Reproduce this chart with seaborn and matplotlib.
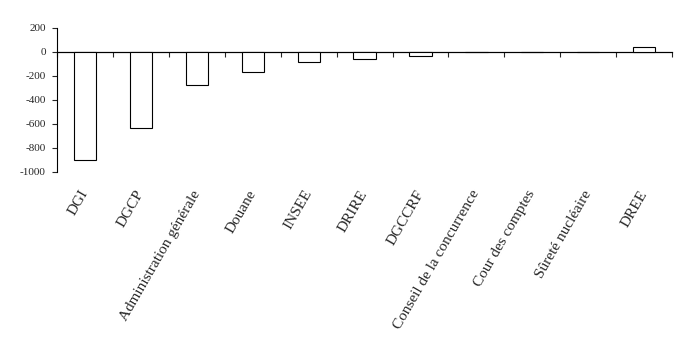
import numpy as np
import matplotlib
matplotlib.use('Agg')
import matplotlib.pyplot as plt
import seaborn as sns

# données
services = ['DGI', 'DGCP', 'Administration générale', 'Douane', 'INSEE', 'DRIRE',
            'DGCCRF', 'Conseil de la concurrence', 'Cour des comptes',
            'Sûreté nucléaire', 'DREE']
valeurs = [-900, -635, -280, -170, -80, -55, -30, 0, 0, 0, 45]
yticks = [-1000, -800, -600, -400, -200, 0, 200]

sns.set_style('white')
plt.rcParams['font.family'] = ['Liberation Serif', 'DejaVu Serif']

fig = plt.figure(figsize=(6.88, 3.53), dpi=100)
ax = fig.add_axes([0.0833, 0.5136, 0.8934, 0.4071])

sns.barplot(x=services, y=valeurs, color='white', edgecolor='black',
            linewidth=0.8, width=0.40, saturation=1, ax=ax)

ax.set_ylim(-1000, 200)
ax.set_xlim(-0.5, len(services) - 0.5)
ax.set_yticks(yticks)
ax.set_yticklabels([str(v) for v in yticks], fontsize=8)
ax.tick_params(axis='y', direction='out', length=3.3, width=0.8, pad=5, left=True)

# étiquettes en bas, inclinées
ax.set_xticks(range(len(services)))
ax.set_xticklabels(services, rotation=60, ha='right', va='center',
                   rotation_mode='anchor', fontsize=11)
ax.tick_params(axis='x', length=0, pad=14)

for s in ['top', 'right', 'bottom']:
    ax.spines[s].set_visible(False)
ax.spines['left'].set_color('black')
ax.spines['left'].set_linewidth(0.8)

# axe horizontal à zéro avec graduations entre catégories
y0 = (0 - (-1000)) / 1200
sec = ax.secondary_xaxis(y0)
sec.set_xticks(np.arange(len(services) + 1) - 0.5)
sec.set_xticklabels([])
sec.xaxis.set_ticks_position('bottom')
sec.tick_params(axis='x', direction='out', length=3.6, width=0.8)
for s in ['top', 'bottom']:
    sec.spines[s].set_visible(True)
    sec.spines[s].set_linewidth(0.8)
    sec.spines[s].set_color('black')
for s in ['left', 'right']:
    sec.spines[s].set_visible(False)

ax.set_xlabel('')
ax.set_ylabel('')
fig.savefig('out.png', dpi=100)
